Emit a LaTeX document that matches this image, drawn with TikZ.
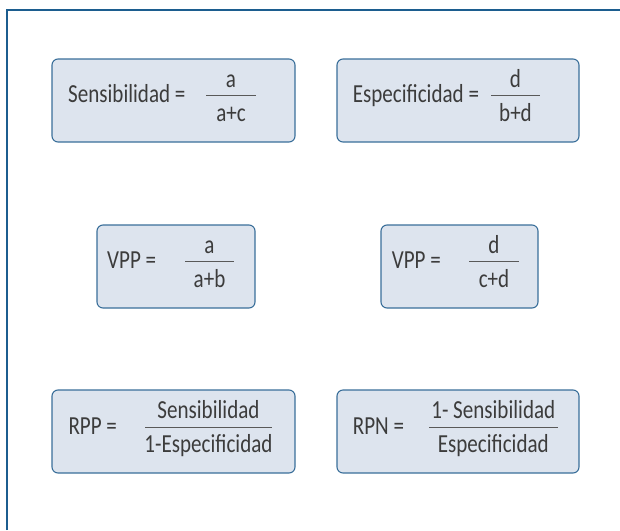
\documentclass[tikz,border=0pt]{standalone}
\usepackage{fontspec}
\setmainfont{Carlito}[FakeStretch=0.81]

\definecolor{cadre}{HTML}{1C5D8F}
\definecolor{bordbleu}{HTML}{3A6F9A}
\definecolor{fondbleu}{HTML}{DDE4EE}
\definecolor{gristexte}{HTML}{3C3C3C}

\tikzset{cadre/.style = {draw = cadre, line width = 2.2pt},
         formule/.style = {draw = bordbleu, fill = fondbleu, line width = 1.1pt,
                           rounded corners = 6pt, minimum height = 83pt, inner sep = 0pt},
         txt/.style = {text = gristexte, font = \fontsize{26}{30}\selectfont,
                       inner sep = 0pt, anchor = base},
         barre/.style = {fill = gristexte!85, inner sep = 0pt, minimum height = 1.4pt}
        }

\begin{document}
\begin{tikzpicture}[x=1pt,y=-1pt]
\useasboundingbox (0,0) rectangle (620,530);
\draw[cadre] (7,530) -- (7,10) -- (620,10);
% ligne 1
\node[formule, minimum width = 243pt] (sens) at (173.5,100.5) {};
\node[txt, anchor = base west] (sensL) at (68,102.7) {Sensibilidad =};
\node[barre, minimum width = 50pt] (sensB) at (231,95.7) {};
\node[txt] (sensN) at ([yshift=8.4pt]sensB) {a};
\node[txt] (sensD) at ([yshift=-25.3pt]sensB) {a+c};

\node[formule, minimum width = 242pt] (espe) at (458,100.5) {};
\node[txt, anchor = base west] (espeL) at (352.7,102.7) {Especificidad =};
\node[barre, minimum width = 49pt] (espeB) at (515.5,95.7) {};
\node[txt] (espeN) at ([yshift=8.4pt]espeB) {d};
\node[txt] (espeD) at ([yshift=-25.3pt]espeB) {b+d};
% ligne 2
\node[formule, minimum width = 158pt] (vppa) at (176,266.5) {};
\node[txt, anchor = base west] (vppaL) at (107,268.7) {VPP =};
\node[barre, minimum width = 49pt] (vppaB) at (209.5,261.7) {};
\node[txt] (vppaN) at ([yshift=8.4pt]vppaB) {a};
\node[txt] (vppaD) at ([yshift=-25.3pt]vppaB) {a+b};

\node[formule, minimum width = 157pt] (vppd) at (459.5,266.5) {};
\node[txt, anchor = base west] (vppdL) at (391.7,268.7) {VPP =};
\node[barre, minimum width = 50pt] (vppdB) at (494,261.7) {};
\node[txt] (vppdN) at ([yshift=8.4pt]vppdB) {d};
\node[txt] (vppdD) at ([yshift=-25.3pt]vppdB) {c+d};
% ligne 3
\node[formule, minimum width = 243pt] (rpp) at (173.5,431.5) {};
\node[txt, anchor = base west] (rppL) at (68.3,434.3) {RPP =};
\node[barre, minimum width = 127pt] (rppB) at (208.5,427.3) {};
\node[txt] (rppN) at ([yshift=8.4pt]rppB) {Sensibilidad};
\node[txt] (rppD) at ([yshift=-25.3pt]rppB) {1-Especificidad};

\node[formule, minimum width = 242pt] (rpn) at (458,431.5) {};
\node[txt, anchor = base west] (rpnL) at (352.7,434.3) {RPN =};
\node[barre, minimum width = 129pt] (rpnB) at (493.3,427.3) {};
\node[txt] (rpnN) at ([yshift=8.4pt]rpnB) {1- Sensibilidad};
\node[txt] (rpnD) at ([yshift=-25.3pt]rpnB) {Especificidad};
\end{tikzpicture}
\end{document}
